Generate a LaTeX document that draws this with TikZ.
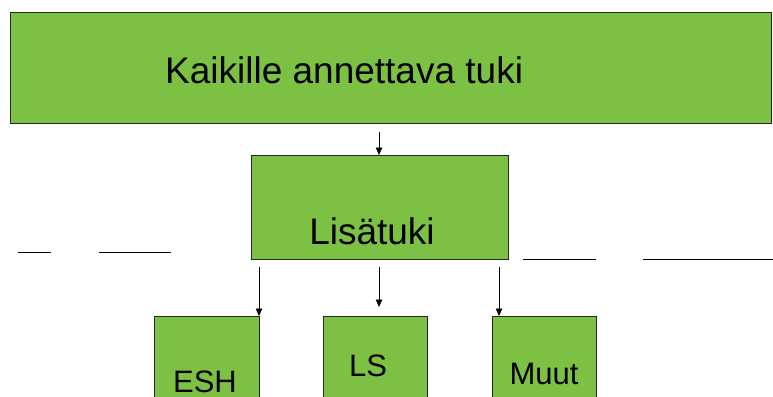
\documentclass[tikz,border=0pt]{standalone}
\usepackage{fontspec}
\setmainfont{Liberation Sans}
\usetikzlibrary{arrows.meta}
\definecolor{boxgreen}{HTML}{7CC144}
\begin{document}
\begin{tikzpicture}[x=1pt,y=-1pt,
  gbox/.style={draw=black!85,line width=0.8pt,fill=boxgreen,inner sep=0pt,anchor=north west},
  lbl/.style={inner sep=0pt,anchor=base},
  conn/.style={line width=0.8pt,-{Triangle[length=7.5pt,width=6.5pt]}},
  rule/.style={line width=1pt}]
\clip (0,0) rectangle (773,396);
\fill[white] (0,0) rectangle (773,396);
% boxes
\node[gbox,minimum width=761pt,minimum height=111pt] (top) at (10,12) {};
\node[gbox,minimum width=257pt,minimum height=104pt] (mid) at (251,155) {};
\node[gbox,minimum width=105pt,minimum height=110pt] (esh) at (154,316) {};
\node[gbox,minimum width=104pt,minimum height=110pt] (ls) at (323,316) {};
\node[gbox,minimum width=104pt,minimum height=110pt] (muut) at (492,316) {};
% texts
\node[inner sep=0pt,anchor=base west,font=\fontsize{37}{40}\selectfont] (ttop) at (165,83) {Kaikille annettava tuki};
\node[lbl,font=\fontsize{37}{40}\selectfont] (tmid) at (372,244) {Lisätuki};
\node[lbl,font=\fontsize{31}{34}\selectfont] (tesh) at (205,392) {ESH};
\node[lbl,font=\fontsize{31}{34}\selectfont] (tls) at (368,376) {LS};
\node[lbl,font=\fontsize{31}{34}\selectfont] (tmuut) at (544,384) {Muut};
% connector coordinates
\coordinate (a0) at (379,132);
\coordinate (b1) at (259,267);
\coordinate (b2) at (379,267);
\coordinate (b3) at (499,267);
\coordinate (e1) at (259,316);
\coordinate (e2) at (379,307);
\coordinate (e3) at (499,316);
\draw[conn] (a0) -- (a0 |- mid.north);
\draw[conn] (b1) -- (e1);
\draw[conn] (b2) -- (e2);
\draw[conn] (b3) -- (e3);
% free rules
\coordinate (r1a) at (18,252); \coordinate (r1b) at (51,252);
\coordinate (r2a) at (99,252); \coordinate (r2b) at (171,252);
\coordinate (r3a) at (523,259); \coordinate (r3b) at (596,259);
\coordinate (r4a) at (643,259); \coordinate (r4b) at (773,259);
\draw[rule] (r1a) -- (r1b);
\draw[rule] (r2a) -- (r2b);
\draw[rule] (r3a) -- (r3b);
\draw[rule] (r4a) -- (r4b);
\end{tikzpicture}
\end{document}
